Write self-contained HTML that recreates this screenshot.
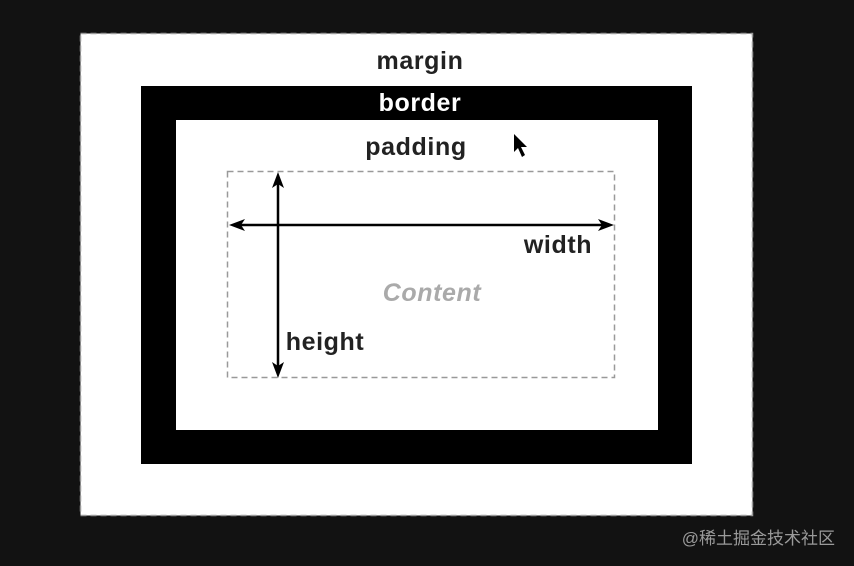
<!DOCTYPE html>
<html><head><meta charset="utf-8"><style>html,body{margin:0;padding:0;background:#121212}svg{display:block}</style></head>
<body>
<svg width="854" height="566" viewBox="0 0 854 566" xmlns="http://www.w3.org/2000/svg" font-family="Liberation Sans, Arial, sans-serif">
<rect width="854" height="566" fill="#121212"/>
<rect x="80.5" y="33.5" width="672" height="482" fill="#fff" stroke="#999" stroke-width="1.5" stroke-dasharray="6,4"/>
<rect x="141" y="86" width="551" height="378" fill="#000"/>
<rect x="176" y="120" width="482" height="310" fill="#fff"/>
<rect x="227.5" y="171.5" width="387" height="206" fill="none" stroke="#999" stroke-width="1.5" stroke-dasharray="6,4"/>
<line x1="278" y1="180" x2="278" y2="370" stroke="#000" stroke-width="2.5"/>
<polygon points="278,172 272,188 278,184 284,188" fill="#000"/>
<polygon points="278,378 272,362 278,366 284,362" fill="#000"/>
<line x1="237" y1="225" x2="606" y2="225" stroke="#000" stroke-width="2.5"/>
<polygon points="229,225 245,219 241,225 245,231" fill="#000"/>
<polygon points="614,225 598,219 602,225 598,231" fill="#000"/>
<g font-weight="bold" font-size="25" text-anchor="middle" letter-spacing="0.6">
<text x="420" y="69" fill="#222">margin</text>
<text x="420" y="111" fill="#fff">border</text>
<text x="416" y="155" fill="#222">padding</text>
<text x="558" y="253" fill="#222">width</text>
<text x="325" y="350" fill="#222">height</text>
<text x="432" y="301" fill="#aaa" font-style="italic">Content</text>
</g>
<polygon points="514,134 514,152 518,148 522,157 525,155 521,147 527,147" fill="#000"/>
<text x="835" y="544" fill="#9a9a9a" font-size="17" text-anchor="end" font-family="Liberation Sans, Noto Sans CJK SC, sans-serif">@稀土掘金技术社区</text>
</svg>
</body></html>
